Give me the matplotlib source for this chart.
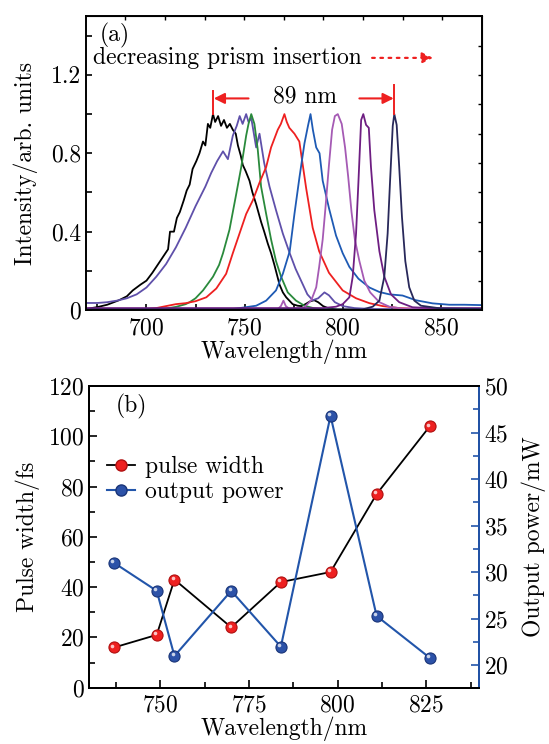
import matplotlib
matplotlib.use("Agg")
import matplotlib.pyplot as plt
import matplotlib.transforms as mtransforms
from matplotlib.ticker import MultipleLocator
import numpy as np

plt.rcParams['font.family'] = 'cmr10'
plt.rcParams['mathtext.fontset'] = 'cm'
plt.rcParams['axes.formatter.use_mathtext'] = True
plt.rcParams['font.size'] = 17

# ---------------- (a) spectra ----------------
black_wl = [669, 675, 680, 686, 690, 693, 697, 700, 703, 705, 707, 709, 711, 712, 714,
            715.5, 717, 719, 720.5, 722, 723.5, 725.4, 727, 728.8, 730, 731.3, 732.5,
            733.9, 735, 736.5, 738, 739.5, 741, 742.5, 744, 745.5, 746.6, 748, 749.1,
            750.5, 752.5, 754, 755.9, 758.4, 760, 761.8, 763.5, 765.2, 767.8, 769.5,
            771.2, 774.5, 777, 779, 781, 783.5, 785.5, 787.5, 790, 793, 797, 810, 840, 871]
black_i = [0.005, 0.015, 0.027, 0.05, 0.07, 0.10, 0.13, 0.15, 0.19, 0.22, 0.25, 0.28, 0.31,
           0.40, 0.40, 0.47, 0.50, 0.56, 0.61, 0.64, 0.72, 0.76, 0.80, 0.86, 0.84, 0.95, 0.93,
           1.0, 0.96, 0.99, 0.94, 0.97, 0.93, 0.95, 0.92, 0.90, 0.84, 0.79, 0.74, 0.71, 0.66,
           0.60, 0.54, 0.45, 0.40, 0.34, 0.29, 0.23, 0.13, 0.09, 0.065, 0.03, 0.022, 0.02,
           0.03, 0.045, 0.05, 0.04, 0.02, 0.008, 0.003, 0.002, 0.002, 0.002]

slate_wl = [669, 675, 680, 685, 690, 695, 700, 705, 710, 715, 720, 725, 730, 733, 736, 739,
            741.5, 744, 746, 747.5, 749, 750.8, 752, 753.4, 755.9, 757.6, 760, 762.7, 766,
            769.5, 773, 776, 779.7, 782, 784.7, 787.5, 790.7, 793, 796, 800, 806, 815, 840, 871]
slate_i = [0.036, 0.036, 0.04, 0.048, 0.06, 0.08, 0.115, 0.17, 0.235, 0.32, 0.42, 0.53, 0.63,
           0.70, 0.76, 0.81, 0.77, 0.89, 0.94, 0.99, 0.95, 1.0, 0.96, 0.98, 0.83, 0.90, 0.75,
           0.63, 0.51, 0.39, 0.29, 0.21, 0.13, 0.08, 0.05, 0.06, 0.09, 0.075, 0.04, 0.02, 0.01,
           0.005, 0.004, 0.004]

green_wl = [669, 700, 705, 710, 715, 720, 722, 725, 728.8, 731, 733.9, 737, 739, 742.3, 744,
            745.7, 748.3, 750.8, 752, 753.4, 755, 756.7, 758.4, 761, 763.5, 766, 768.6, 772,
            776.2, 780.5, 785, 790, 800, 871]
green_i = [0.0, 0.002, 0.004, 0.008, 0.016, 0.03, 0.04, 0.06, 0.10, 0.13, 0.17, 0.23, 0.29,
           0.41, 0.50, 0.59, 0.73, 0.89, 0.95, 1.0, 0.95, 0.82, 0.63, 0.49, 0.36, 0.25, 0.17,
           0.09, 0.048, 0.022, 0.01, 0.005, 0.0, 0.0]

red_wl = [669, 690, 700, 705, 710, 715, 720, 725, 730.5, 735.6, 740.6, 744, 747.4, 750.8,
          754.2, 757.6, 761, 763.5, 766.9, 768.5, 770.3, 771.5, 772.8, 775.4, 777.9, 781.4,
          784.7, 788, 793, 800, 806.8, 813.6, 820.4, 828.8, 840, 871]
red_i = [0.0, 0.002, 0.005, 0.01, 0.02, 0.03, 0.035, 0.045, 0.065, 0.11, 0.185, 0.29, 0.39,
         0.49, 0.56, 0.65, 0.73, 0.83, 0.92, 0.95, 1.0, 0.96, 0.93, 0.90, 0.86, 0.62, 0.42,
         0.30, 0.19, 0.10, 0.06, 0.035, 0.02, 0.01, 0.005, 0.003]

blue_wl = [669, 740, 749, 755.9, 761, 766, 769.5, 773, 775.4, 778, 780.5, 782.3, 783.6,
           784.8, 786.5, 788.2, 789.8, 793, 796.6, 800, 803.4, 808, 813.6, 818.7, 823.8,
           830.5, 837.3, 845.8, 854.3, 862, 871]
blue_i = [0.0, 0.0, 0.012, 0.022, 0.048, 0.10, 0.185, 0.30, 0.49, 0.68, 0.85, 0.94, 1.0,
          0.92, 0.83, 0.80, 0.66, 0.52, 0.38, 0.29, 0.22, 0.16, 0.115, 0.092, 0.08, 0.074,
          0.05, 0.034, 0.027, 0.027, 0.025]

orchid_wl = [669, 760, 767, 768.5, 769.8, 771, 773, 780, 784, 786.5, 788, 789.8, 791.2,
             793, 794.6, 796, 797.5, 799.5, 801.2, 802.8, 804.5, 806.2, 808.5, 811, 814,
             818.7, 823.8, 830, 871]
orchid_i = [0.005, 0.005, 0.005, 0.02, 0.048, 0.02, 0.005, 0.01, 0.05, 0.116, 0.22, 0.36,
            0.52, 0.74, 0.92, 0.99, 1.0, 0.95, 0.83, 0.68, 0.50, 0.36, 0.25, 0.15, 0.09,
            0.04, 0.017, 0.008, 0.005]

purple_wl = [669, 790, 796.6, 800, 803.4, 805.1, 806.8, 808, 809.4, 810.5, 811.9, 813.3,
             814.4, 816.1, 818.7, 821.2, 824.6, 828.8, 835.6, 845, 871]
purple_i = [0.01, 0.01, 0.017, 0.03, 0.065, 0.17, 0.39, 0.65, 0.97, 1.0, 0.945, 0.93, 0.73,
            0.51, 0.30, 0.17, 0.08, 0.04, 0.014, 0.01, 0.01]

navy_wl = [669, 810, 815.3, 818.7, 821.2, 822.9, 824.1, 825.5, 826.3, 827.5, 828.8, 830.2,
           831.9, 833.9, 836.5, 839.9, 850, 871]
navy_i = [0.003, 0.003, 0.017, 0.048, 0.17, 0.39, 0.65, 0.94, 1.0, 0.945, 0.73, 0.475, 0.25,
          0.116, 0.048, 0.022, 0.008, 0.005]

spectra = [
    (black_wl, black_i, '#000000'),
    (slate_wl, slate_i, '#5f50aa'),
    (green_wl, green_i, '#2a8a3c'),
    (red_wl, red_i, '#ee2020'),
    (blue_wl, blue_i, '#1e5ab4'),
    (orchid_wl, orchid_i, '#a55ab4'),
    (purple_wl, purple_i, '#6e1e82'),
    (navy_wl, navy_i, '#28285a'),
]

# ---------------- (b) pulse width and output power ----------------
wavelength = [737, 749, 754, 770, 784, 798, 811, 826]
pulse_width = [16, 21, 43, 24, 42, 46, 77, 104]
output_power = [31.0, 28.0, 21.0, 28.0, 22.0, 46.8, 25.3, 20.8]

RED = '#ee2020'
BLUE_LINE = '#2255aa'

fig = plt.figure(figsize=(5.49, 7.44), dpi=100)

# =========================== panel (a) ===========================
ax1 = fig.add_axes([0.156, 0.5833, 0.722, 0.395])
for wl, inten, c in spectra:
    ax1.plot(wl, inten, color=c, lw=1.3)

ax1.set_xlim(669, 871)
ax1.set_ylim(0, 1.5)
ax1.xaxis.set_major_locator(MultipleLocator(50))
ax1.xaxis.set_minor_locator(MultipleLocator(25))
ax1.yaxis.set_major_locator(MultipleLocator(0.4))
ax1.yaxis.set_minor_locator(MultipleLocator(0.2))
ax1.yaxis.set_major_formatter(lambda v, p: '0' if v == 0 else f'{v:.1f}')
ax1.tick_params(which='both', direction='in', width=1.2, length=4)
ax1.tick_params(axis='x', pad=5)
for s in ax1.spines.values():
    s.set_linewidth(1.4)

# the mirrored top/right axes carry their own evenly spaced ticks
top = ax1.secondary_xaxis('top')
top.set_xticks(np.linspace(669, 871, 11)[1:-1])
top.tick_params(direction='in', length=3, width=1.0, labeltop=False)
right = ax1.secondary_yaxis('right')
right.set_yticks(np.linspace(0, 1.5, 11)[1:-1])
right.tick_params(direction='in', length=3, width=1.0, labelright=False)

ax1.set_xlabel('Wavelength/nm', labelpad=0)
ax1.set_ylabel('Intensity/arb. units', labelpad=9)

ax1.text(676.2, 1.40, '(a)', ha='left', va='center')
ax1.text(673.0, 1.287, 'decreasing prism insertion', ha='left', va='center')
ax1.annotate('', xy=(846, 1.287), xytext=(815, 1.287),
             arrowprops=dict(arrowstyle='-|>', color=RED, lw=1.6, ls=(0, (1.2, 2.5)),
                             mutation_scale=16, shrinkA=0, shrinkB=0))

# 89 nm bracket
ax1.plot([734.1, 734.1], [1.0, 1.12], color=RED, lw=1.4)
ax1.plot([826.2, 826.2], [1.0, 1.15], color=RED, lw=1.4)
ax1.annotate('', xy=(734.3, 1.08), xytext=(752, 1.08),
             arrowprops=dict(arrowstyle='-|>', color=RED, lw=1.5, mutation_scale=16,
                             shrinkA=0, shrinkB=0))
ax1.annotate('', xy=(826.0, 1.08), xytext=(808.5, 1.08),
             arrowprops=dict(arrowstyle='-|>', color=RED, lw=1.5, mutation_scale=16,
                             shrinkA=0, shrinkB=0))
ax1.text(781, 1.09, '89 nm', ha='center', va='center')

# =========================== panel (b) ===========================
ax2 = fig.add_axes([0.1627, 0.0757, 0.7107, 0.4055])
ax2r = ax2.twinx()

def ball(ax, x, y, face, edge):
    ax.plot(x, y, 'o', ms=8, mfc=face, mec=edge, mew=0.8, zorder=4)
    hl = ax.transData + mtransforms.ScaledTranslation(-1.2 / 72, 1.2 / 72, fig.dpi_scale_trans)
    ax.plot(x, y, 'o', ms=2.6, mfc='white', mec='none', alpha=0.75, transform=hl, zorder=5)

ax2.plot(wavelength, pulse_width, '-', color='black', lw=1.3, zorder=3)
ball(ax2, wavelength, pulse_width, RED, '#b01010')
ax2r.plot(wavelength, output_power, '-', color=BLUE_LINE, lw=1.5, zorder=3)
ball(ax2r, wavelength, output_power, '#2c52a8', '#1a3578')

ax2.set_xlim(730, 840)
ax2.set_ylim(0, 120)
ax2r.set_ylim(17.6, 50)
ax2.xaxis.set_major_locator(MultipleLocator(25))
ax2.xaxis.set_minor_locator(MultipleLocator(12.5))
ax2.yaxis.set_major_locator(MultipleLocator(20))
ax2.yaxis.set_minor_locator(MultipleLocator(10))
ax2r.yaxis.set_major_locator(MultipleLocator(5))
ax2r.yaxis.set_minor_locator(MultipleLocator(2.5))

ax2.tick_params(which='both', direction='in', width=1.2, top=False)
ax2.tick_params(which='major', length=6)
ax2.tick_params(which='minor', length=4)
ax2.tick_params(axis='x', pad=5)
ax2r.tick_params(which='both', direction='in', width=1.2, color=BLUE_LINE)
ax2r.tick_params(which='major', length=6)
ax2r.tick_params(which='minor', length=4)
for s in ax2.spines.values():
    s.set_linewidth(1.4)
for s in ax2r.spines.values():
    s.set_linewidth(1.4)
ax2r.spines['right'].set_color(BLUE_LINE)

ax2.set_xlabel('Wavelength/nm', labelpad=0)
ax2.set_ylabel('Pulse width/fs', labelpad=6)
ax2r.set_ylabel('Output power/mW', labelpad=9)

ax2.text(737.4, 111.8, '(b)', ha='left', va='center')

# legend handles mimic line + ball
h1 = plt.Line2D([], [], color='black', lw=1.3, marker='o', ms=8, mfc=RED, mec='#b01010')
h2 = plt.Line2D([], [], color=BLUE_LINE, lw=1.5, marker='o', ms=8, mfc='#2c52a8', mec='#1a3578')
ax2r.legend([h1, h2], ['pulse width', 'output power'], loc='center left',
            bbox_to_anchor=(0.045, 0.69), frameon=False, handlelength=1.2,
            handletextpad=0.4, borderpad=0, borderaxespad=0, labelspacing=0.1)

fig.savefig('out.png', dpi=100)
